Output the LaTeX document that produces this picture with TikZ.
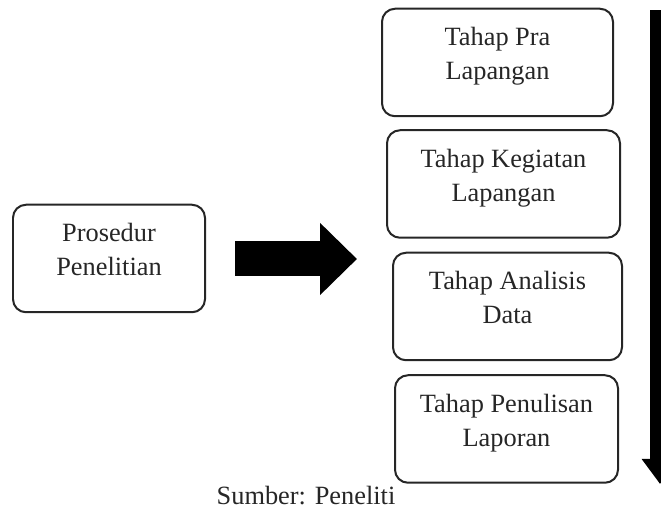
\documentclass[tikz,border=0pt]{standalone}
\usepackage{fontspec}
\setmainfont{Liberation Serif}
\usetikzlibrary{positioning,arrows.meta}

\begin{document}
\begin{tikzpicture}
  \tikzstyle{mythin}=[line width=.04cm];
  \tikzstyle{tahap}=[draw=black!85,text=black!85,rounded corners=.26cm,mythin,align=center,font=\fontsize{15}{19.4}\selectfont,text depth=.35cm,minimum height=2.15cm]
  \tikzstyle{fat}=[line width=.7cm,-{Triangle[width=1.4cm,length=.74cm]}]
  \tikzstyle{down}=[line width=.4cm,-{Triangle[width=.7cm,length=.5cm]}]
  \useasboundingbox (0,0) rectangle (13.22,10.26);
  \clip (0,0) rectangle (13.22,10.26);
  \node [tahap,minimum width=3.84cm] (prosedur) at (2.18,5.09) {Prosedur\\Penelitian};
  \node [tahap,minimum width=4.62cm] (pra) at (9.95,9.01) {Tahap Pra\\Lapangan};
  \node [tahap,minimum width=4.66cm] (kegiatan) at (10.07,6.58) {Tahap Kegiatan\\Lapangan};
  \node [tahap,minimum width=4.58cm] (analisis) at (10.15,4.13) {Tahap Analisis\\Data};
  \node [tahap,minimum width=4.46cm] (penulisan) at (10.13,1.68) {Tahap Penulisan\\Laporan};
  \coordinate (fa) at (4.70,5.08);
  \coordinate (fb) at (7.14,5.08);
  \draw [fat] (fa) -- (fb);
  \coordinate (top) at (13.2,10.06);
  \coordinate (bot) at (13.2,0.58);
  \draw [down] (top) -- (bot);
  \node [text=black!85,font=\fontsize{15}{19.4}\selectfont] (sumber) at (6.12,0.34) {Sumber: Peneliti};
\end{tikzpicture}
\end{document}
